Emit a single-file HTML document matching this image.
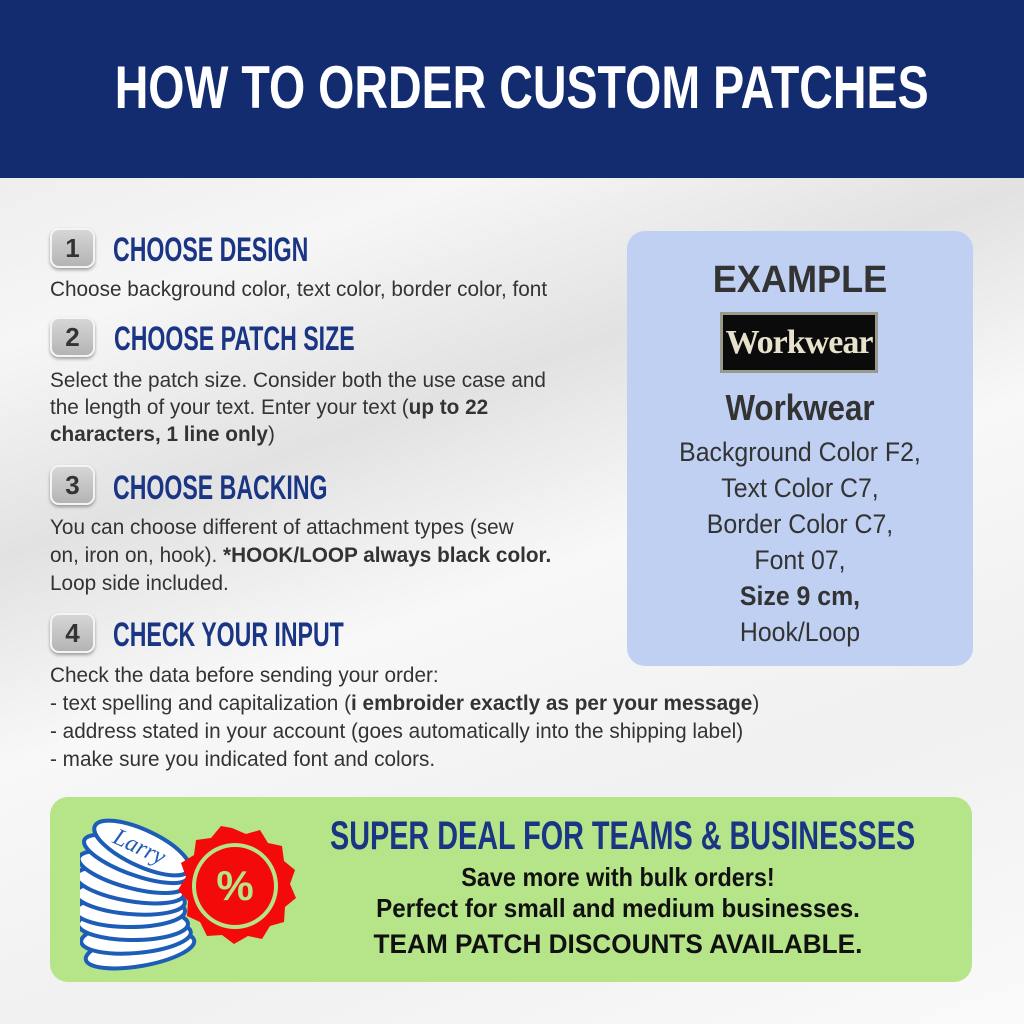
<!DOCTYPE html>
<html><head><meta charset="utf-8"><style>
*{margin:0;padding:0;box-sizing:border-box}
body{width:1024px;height:1024px;position:relative;overflow:hidden;font-family:"Liberation Sans",sans-serif;
background:linear-gradient(160deg,#e6e6e6 0%,#f6f6f6 25%,#e2e2e2 40%,#f8f8f8 55%,#f0f0f0 75%,#fafafa 100%)}
.t{position:absolute;white-space:nowrap;transform-origin:left top;color:#333;line-height:1}
.c{position:absolute;white-space:nowrap;text-align:center;transform-origin:center top;line-height:1}
.h{color:#1b3585;font-weight:bold;font-size:34px;transform:scaleX(.68)}
.b{font-size:21.5px;color:#333;transform:scaleX(.965)}
.n{position:absolute;left:50px;width:45px;height:40px;border-radius:9px;border:2px solid #f4f4f4;
background:linear-gradient(#d6d6d6,#b4b4b4);box-shadow:0 2px 3px rgba(0,0,0,.35);color:#333;font-weight:bold;font-size:26px;text-align:center;line-height:36px}
</style></head><body>
<div style="position:absolute;left:0;top:0;width:1024px;height:178px;background:#132c70"></div>
<div class="c" style="left:0;width:1024px;top:58px;font-size:60px;font-weight:bold;color:#fff;transform:scaleX(.776)">HOW TO ORDER CUSTOM PATCHES</div>

<div class="n" style="top:228px">1</div>
<div class="t h" style="left:113px;top:233px">CHOOSE DESIGN</div>
<div class="t b" style="left:50px;top:279px">Choose background color, text color, border color, font</div>

<div class="n" style="top:317px">2</div>
<div class="t h" style="left:114px;top:322px">CHOOSE PATCH SIZE</div>
<div class="t b" style="left:50px;top:370px">Select the patch size. Consider both the use case and</div>
<div class="t b" style="left:50px;top:397px">the length of your text. Enter your text (<b>up to 22</b></div>
<div class="t b" style="left:50px;top:424px"><b>characters, 1 line only</b>)</div>

<div class="n" style="top:465px">3</div>
<div class="t h" style="left:113px;top:471px">CHOOSE BACKING</div>
<div class="t b" style="left:50px;top:517px">You can choose different of attachment types (sew</div>
<div class="t b" style="left:50px;top:545px">on, iron on, hook). <b>*HOOK/LOOP always black color.</b></div>
<div class="t b" style="left:50px;top:573px">Loop side included.</div>

<div class="n" style="top:613px">4</div>
<div class="t h" style="left:113px;top:618px">CHECK YOUR INPUT</div>
<div class="t b" style="left:50px;top:665px">Check the data before sending your order:</div>
<div class="t b" style="left:50px;top:693px">- text spelling and capitalization (<b>i embroider exactly as per your message</b>)</div>
<div class="t b" style="left:50px;top:721px">- address stated in your account (goes automatically into the shipping label)</div>
<div class="t b" style="left:50px;top:749px">- make sure you indicated font and colors.</div>

<div style="position:absolute;left:627px;top:231px;width:346px;height:435px;border-radius:18px;background:#c0d0f2"></div>
<div class="c" style="left:627px;width:346px;top:261px;font-size:38px;font-weight:bold;color:#333;transform:scaleX(.95)">EXAMPLE</div>
<div style="position:absolute;left:720px;top:312px;width:158px;height:61px;background:#9a9a8a;padding:3px">
<div style="width:100%;height:100%;background:#0b0b0b;color:#e8e2cc;font-family:'Liberation Serif',serif;font-weight:bold;font-size:34px;text-align:center;line-height:55px;letter-spacing:-1px">Workwear</div></div>
<div class="c" style="left:627px;width:346px;top:390px;font-size:36px;font-weight:bold;color:#333;transform:scaleX(.87)">Workwear</div>
<div class="c" style="left:627px;width:346px;top:434px;font-size:27px;color:#333;line-height:36px;transform:scaleX(.92)">Background Color F2,<br>Text Color C7,<br>Border Color C7,<br>Font 07,<br><b>Size 9 cm,</b><br>Hook/Loop</div>

<div style="position:absolute;left:50px;top:797px;width:922px;height:185px;border-radius:18px;background:#b6e488"></div>
<svg style="position:absolute;left:80px;top:810px" width="220" height="165" viewBox="0 0 220 165">
<g fill="#fff" stroke="#1d5db8" stroke-width="4">
<ellipse cx="60" cy="140" rx="55" ry="16" transform="rotate(-10 60 140)"/>
<ellipse cx="56" cy="127" rx="55" ry="16" transform="rotate(-5 56 127)"/>
<ellipse cx="53" cy="114" rx="55" ry="16"/>
<ellipse cx="50" cy="101" rx="55" ry="16"/>
<ellipse cx="50" cy="88" rx="55" ry="16" transform="rotate(5 50 88)"/>
<ellipse cx="50" cy="75" rx="55" ry="16" transform="rotate(10 50 75)"/>
<ellipse cx="52" cy="62" rx="55" ry="16" transform="rotate(15 52 62)"/>
<ellipse cx="56" cy="49" rx="55" ry="16" transform="rotate(20 56 49)"/>
<ellipse cx="62" cy="38" rx="52" ry="18" transform="rotate(25 62 38)"/>
</g>
<text x="58" y="44" font-family="Liberation Serif" font-style="italic" font-size="24" fill="#1d5db8" transform="rotate(25 58 40)" text-anchor="middle">Larry</text>
<polygon fill="#f50a0a" points="152,18 166,24 180,20 188,33 202,36 204,51 215,60 210,74 216,88 205,97 204,112 190,116 182,129 168,126 154,134 142,125 127,126 120,112 107,106 108,91 98,80 106,67 101,53 114,45 116,30 131,28 141,16"/>
<circle cx="155" cy="76" r="41" fill="none" stroke="#b6e488" stroke-width="4"/>
<text x="155" y="90" font-family="Liberation Sans" font-weight="bold" font-size="42" fill="#b6e488" text-anchor="middle">%</text>
</svg>
<div class="c" style="left:218px;width:800px;top:816px;font-size:40px;font-weight:bold;color:#1b3585;transform:scaleX(.72)">SUPER DEAL FOR TEAMS &amp; BUSINESSES</div>
<div class="c" style="left:218px;width:800px;top:864px;font-size:26px;font-weight:bold;color:#111;transform:scaleX(.9)">Save more with bulk orders!</div>
<div class="c" style="left:218px;width:800px;top:895px;font-size:26px;font-weight:bold;color:#111;transform:scaleX(.93)">Perfect for small and medium businesses.</div>
<div class="c" style="left:218px;width:800px;top:931px;font-size:27px;font-weight:bold;color:#111;transform:scaleX(.97)">TEAM PATCH DISCOUNTS AVAILABLE.</div>
</body></html>
